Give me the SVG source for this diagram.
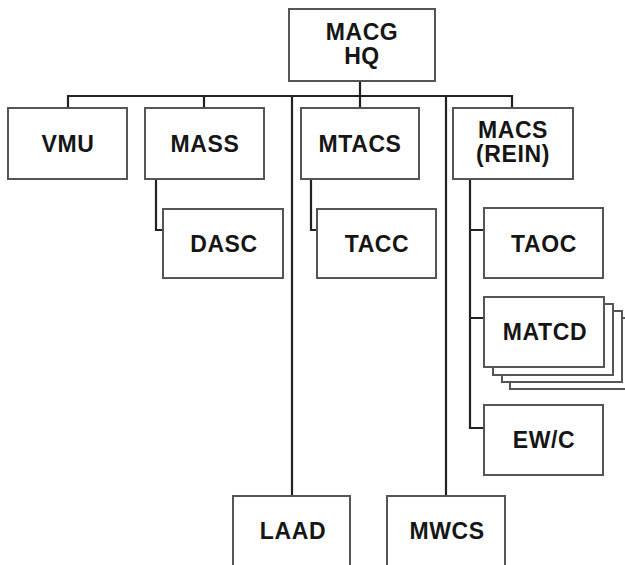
<svg xmlns="http://www.w3.org/2000/svg" width="625" height="565" viewBox="0 0 625 565">
<style>
.box{fill:#fff;stroke:#555;stroke-width:2}
.lbl{font-family:"Liberation Sans",Arial,sans-serif;font-weight:bold;font-size:23px;letter-spacing:0.6px;fill:#151515;text-anchor:middle}
.con{fill:none;stroke:#222;stroke-width:2.2}
</style>
<rect width="625" height="565" fill="#fff"/>
<g id="connectors">
<path class="con" d="M360,81V108M68,108V96H512V108M204,96V108M292,96V496M446,96V496"/>
<path class="con" d="M156,179V230H163M311,179V230H317M470,179V428H484M470,230H484M470,318H484"/>
</g>
<g id="macg-hq"><rect class="box" x="289" y="9" width="146" height="72"/><text class="lbl" x="362" y="40">MACG</text><text class="lbl" x="362" y="64">HQ</text></g>
<g id="vmu"><rect class="box" x="8" y="108" width="119" height="71"/><text class="lbl" x="68" y="152">VMU</text></g>
<g id="mass"><rect class="box" x="145" y="108" width="119" height="71"/><text class="lbl" x="205" y="152">MASS</text></g>
<g id="mtacs"><rect class="box" x="301" y="108" width="118" height="71"/><text class="lbl" x="360" y="152">MTACS</text></g>
<g id="macs"><rect class="box" x="453" y="108" width="120" height="71"/><text class="lbl" x="513" y="138">MACS</text><text class="lbl" x="513" y="162">(REIN)</text></g>
<g id="dasc"><rect class="box" x="163" y="209" width="120" height="69"/><text class="lbl" x="224" y="252">DASC</text></g>
<g id="tacc"><rect class="box" x="317" y="209" width="119" height="69"/><text class="lbl" x="377" y="252">TACC</text></g>
<g id="taoc"><rect class="box" x="484" y="208" width="119" height="70"/><text class="lbl" x="544" y="252">TAOC</text></g>
<g id="matcd">
<rect class="box" x="510" y="318" width="120" height="71"/>
<rect class="box" x="502" y="311" width="120" height="71"/>
<rect class="box" x="493" y="304" width="120" height="71"/>
<rect class="box" x="484" y="297" width="120" height="70"/>
<text class="lbl" x="545" y="340">MATCD</text></g>
<g id="ewc"><rect class="box" x="484" y="405" width="119" height="70"/><text class="lbl" x="544" y="448">EW/C</text></g>
<g id="laad"><rect class="box" x="233" y="496" width="117" height="80"/><text class="lbl" x="293" y="539">LAAD</text></g>
<g id="mwcs"><rect class="box" x="387" y="496" width="118" height="80"/><text class="lbl" x="447" y="539">MWCS</text></g>
</svg>
